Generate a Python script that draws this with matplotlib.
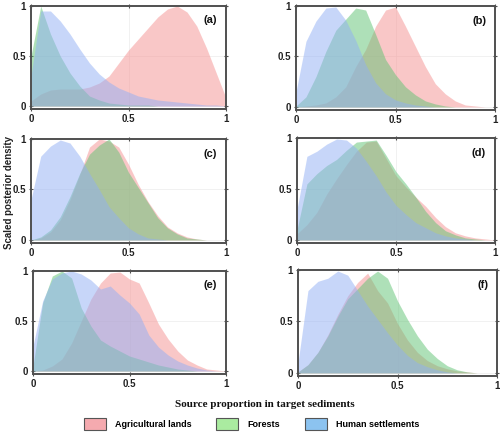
import matplotlib
matplotlib.use("Agg")
import matplotlib.pyplot as plt
from matplotlib.patches import Patch

# ---------------- data ----------------
x_grid = [0.00, 0.05, 0.10, 0.15, 0.20, 0.25, 0.30, 0.35, 0.40, 0.45, 0.50,
          0.55, 0.60, 0.65, 0.70, 0.75, 0.80, 0.85, 0.90, 0.95, 1.00]

series_names = ["Agricultural lands", "Forests", "Human settlements"]
panel_labels = ["(a)", "(b)", "(c)", "(d)", "(e)", "(f)"]

agri_a = [0.05, 0.12, 0.16, 0.17, 0.17, 0.17, 0.19, 0.23, 0.30, 0.43, 0.56, 0.67, 0.78, 0.89, 0.97, 1.00, 0.94, 0.80, 0.58, 0.33, 0.08]
forest_a = [0.50, 1.00, 0.72, 0.50, 0.33, 0.20, 0.10, 0.06, 0.03, 0.02, 0.01, 0.01, 0.01, 0.0, 0.0, 0.0, 0.0, 0.0, 0.0, 0.0, 0.0]
human_a = [0.30, 0.95, 0.95, 0.85, 0.72, 0.57, 0.43, 0.32, 0.24, 0.18, 0.14, 0.10, 0.08, 0.06, 0.05, 0.04, 0.03, 0.02, 0.01, 0.01, 0.0]

agri_b = [0.0, 0.01, 0.02, 0.04, 0.10, 0.20, 0.40, 0.57, 0.80, 0.96, 0.99, 0.80, 0.60, 0.40, 0.23, 0.13, 0.06, 0.02, 0.01, 0.0, 0.0]
forest_b = [0.01, 0.10, 0.30, 0.55, 0.76, 0.87, 0.98, 0.96, 0.72, 0.47, 0.32, 0.20, 0.12, 0.06, 0.03, 0.01, 0.0, 0.0, 0.0, 0.0, 0.0]
human_b = [0.15, 0.65, 0.85, 0.98, 0.99, 0.86, 0.66, 0.42, 0.24, 0.13, 0.07, 0.04, 0.02, 0.01, 0.0, 0.0, 0.0, 0.0, 0.0, 0.0, 0.0]

agri_c = [0.0, 0.02, 0.08, 0.20, 0.40, 0.65, 0.92, 1.00, 0.98, 0.92, 0.75, 0.55, 0.38, 0.24, 0.13, 0.07, 0.03, 0.01, 0.0, 0.0, 0.0]
forest_c = [0.0, 0.03, 0.10, 0.23, 0.43, 0.66, 0.85, 0.94, 1.00, 0.87, 0.67, 0.52, 0.37, 0.22, 0.12, 0.06, 0.02, 0.01, 0.0, 0.0, 0.0]
human_c = [0.40, 0.83, 0.93, 0.99, 0.96, 0.83, 0.66, 0.50, 0.33, 0.22, 0.12, 0.06, 0.02, 0.01, 0.0, 0.0, 0.0, 0.0, 0.0, 0.0, 0.0]

agri_d = [0.06, 0.15, 0.27, 0.45, 0.60, 0.74, 0.87, 0.96, 0.97, 0.80, 0.63, 0.52, 0.42, 0.33, 0.22, 0.13, 0.07, 0.04, 0.02, 0.01, 0.0]
forest_d = [0.10, 0.55, 0.65, 0.73, 0.79, 0.88, 0.96, 0.97, 0.98, 0.83, 0.67, 0.55, 0.42, 0.28, 0.17, 0.09, 0.05, 0.02, 0.01, 0.0, 0.0]
human_d = [0.30, 0.82, 0.87, 0.94, 0.99, 0.98, 0.90, 0.77, 0.63, 0.47, 0.34, 0.25, 0.17, 0.12, 0.07, 0.04, 0.02, 0.01, 0.0, 0.0, 0.0]

agri_e = [0.0, 0.01, 0.05, 0.12, 0.28, 0.50, 0.72, 0.88, 0.98, 0.99, 0.92, 0.88, 0.68, 0.47, 0.32, 0.20, 0.11, 0.06, 0.02, 0.01, 0.0]
forest_e = [0.05, 0.68, 0.95, 1.00, 0.93, 0.63, 0.45, 0.31, 0.25, 0.20, 0.15, 0.12, 0.09, 0.06, 0.04, 0.02, 0.01, 0.0, 0.0, 0.0, 0.0]
human_e = [0.25, 0.70, 0.92, 0.98, 1.00, 0.97, 0.91, 0.82, 0.85, 0.76, 0.68, 0.57, 0.36, 0.24, 0.16, 0.10, 0.06, 0.03, 0.01, 0.0, 0.0]

agri_f = [0.01, 0.08, 0.20, 0.37, 0.57, 0.75, 0.88, 0.97, 0.80, 0.68, 0.48, 0.32, 0.20, 0.12, 0.07, 0.04, 0.02, 0.01, 0.0, 0.0, 0.0]
forest_f = [0.01, 0.08, 0.20, 0.36, 0.55, 0.72, 0.82, 0.92, 0.99, 0.92, 0.70, 0.52, 0.36, 0.23, 0.14, 0.07, 0.03, 0.01, 0.0, 0.0, 0.0]
human_f = [0.10, 0.80, 0.89, 0.92, 0.99, 0.95, 0.80, 0.65, 0.52, 0.39, 0.27, 0.17, 0.10, 0.06, 0.03, 0.01, 0.0, 0.0, 0.0, 0.0, 0.0]

panels = [
    (agri_a, forest_a, human_a),
    (agri_b, forest_b, human_b),
    (agri_c, forest_c, human_c),
    (agri_d, forest_d, human_d),
    (agri_e, forest_e, human_e),
    (agri_f, forest_f, human_f),
]

x_ticks = [0, 0.5, 1]
x_ticklabels = ["0", "0.5", "1"]
y_ticks = [0, 0.5, 1]
y_ticklabels = ["0", "0.5", "1"]

# ---------------- style ----------------
colors = ["#F59191", "#5FC373", "#91AFF5"]
legend_colors = ["#F5AAAF", "#AAEBA0", "#8CC3F0"]
alpha = 0.5
frame_col = "#505050"
sans = ["Liberation Sans", "DejaVu Sans"]
serif = ["Liberation Serif", "DejaVu Serif"]

fig = plt.figure(figsize=(5.0, 4.36), dpi=100)

# axes positions in pixels: (left, top, right, bottom)
pix = [
    (31, 6, 226, 109),
    (296, 6, 495, 110),
    (31, 139, 226, 243),
    (297, 138, 495, 243),
    (33, 271, 226, 374),
    (298, 270, 497, 376),
]
W, H = 500.0, 436.0

for i, (box, data) in enumerate(zip(pix, panels)):
    l, t, r, b = box
    ax = fig.add_axes([l / W, 1 - b / H, (r - l) / W, (b - t) / H])
    ax.set_xlim(0, 1)
    ax.set_ylim(-0.03, 1.0)
    ax.grid(True, color="#ececec", linewidth=0.5, zorder=0)
    ax.set_axisbelow(True)
    for vals, c in zip(data, colors):
        ax.fill_between(x_grid, 0, vals, color=c, alpha=alpha, linewidth=0, zorder=2)
    ax.set_xticks(x_ticks)
    ax.set_xticklabels(x_ticklabels)
    ax.set_yticks(y_ticks)
    ax.set_yticklabels(y_ticklabels)
    ax.tick_params(direction="inout", length=3, width=0.8, color=frame_col,
                   top=True, right=True, labelsize=7, pad=2, labelcolor="#222222")
    for lab in ax.get_xticklabels() + ax.get_yticklabels():
        lab.set_fontweight("bold")
        lab.set_family(sans)
    for sp in ax.spines.values():
        sp.set_color(frame_col)
        sp.set_linewidth(1.4)
    ax.text(0.955, 0.86, panel_labels[i], transform=ax.transAxes, ha="right", va="center",
            fontsize=8, fontweight="bold", family=sans, color="#111111", zorder=5)

fig.text(0.018, 1 - 192 / H, "Scaled posterior density", rotation=90, ha="center", va="center",
         fontsize=7, fontweight="bold", family=sans, color="#222222")
fig.text(0.53, 1 - 404 / H, "Source proportion in target sediments", ha="center", va="center",
         fontsize=8, fontweight="bold", family=serif, color="#111111")

handles = [Patch(facecolor=c, edgecolor="#555555", linewidth=0.8) for c in legend_colors]
leg = fig.legend(handles, series_names, loc="center", bbox_to_anchor=(0.503, 1 - 424 / H), ncol=3,
                 frameon=False, handlelength=2.4, handleheight=1.8, handletextpad=1.0,
                 columnspacing=2.8, prop={"family": sans, "weight": "bold", "size": 6.5})

fig.savefig("out.png", dpi=100)
